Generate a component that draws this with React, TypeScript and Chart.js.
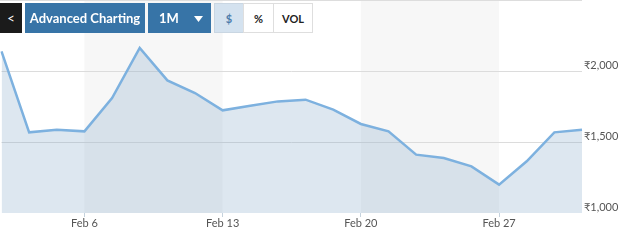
import React, { useEffect, useRef } from "react";
import { Chart, registerables } from "chart.js";

Chart.register(...registerables);

const dates = [
  "Feb 1", "Feb 2", "Feb 3",
  "Feb 6", "Feb 7", "Feb 8", "Feb 9", "Feb 10",
  "Feb 13", "Feb 14", "Feb 15", "Feb 16", "Feb 17",
  "Feb 20", "Feb 21", "Feb 22", "Feb 23", "Feb 24",
  "Feb 27", "Feb 28", "Mar 1", "Mar 2",
];
const prices = [
  2138, 1568, 1587,
  1575, 1810, 2162, 1934, 1845,
  1723, 1756, 1786, 1798, 1728,
  1627, 1575, 1411, 1387, 1328,
  1200, 1364, 1568, 1587,
];
const xTickLabels = ["Feb 6", "Feb 13", "Feb 20", "Feb 27"];
const yTickValues = [1000, 1500, 2000];
const yMin = 1000;
const yMax = 2500;
const bandRanges: [string, string][] = [["Feb 6", "Feb 13"], ["Feb 20", "Feb 27"]];

const bandsPlugin = {
  id: "bands",
  beforeDraw(chart: any) {
    const { ctx, chartArea, scales } = chart;
    const x = scales.x;
    ctx.save();
    ctx.fillStyle = "#f7f7f7";
    for (const [a, b] of bandRanges) {
      const x0 = x.getPixelForValue(dates.indexOf(a));
      const x1 = x.getPixelForValue(dates.indexOf(b));
      ctx.fillRect(x0, chartArea.top, x1 - x0, chartArea.bottom - chartArea.top);
    }
    ctx.strokeStyle = "#dddddd";
    ctx.lineWidth = 1;
    ctx.beginPath();
    ctx.moveTo(0, 0.5);
    ctx.lineTo(chartArea.right, 0.5);
    ctx.stroke();
    ctx.restore();
  },
};

const btnBase: React.CSSProperties = {
  position: "absolute",
  top: 3,
  height: 30,
  display: "flex",
  alignItems: "center",
  justifyContent: "center",
  fontFamily: "Lato, 'Open Sans', sans-serif",
  fontWeight: 700,
  boxSizing: "border-box",
};

export default function App() {
  const ref = useRef<HTMLCanvasElement | null>(null);
  useEffect(() => {
    if (!ref.current) return;
    const chart = new Chart(ref.current, {
      type: "line",
      data: {
        labels: dates,
        datasets: [
          {
            data: prices,
            borderColor: "#7db1df",
            borderWidth: 2.5,
            backgroundColor: "rgba(120,160,195,0.25)",
            fill: "start",
            pointRadius: 0,
            tension: 0,
          },
        ],
      },
      plugins: [bandsPlugin],
      options: {
        animation: false,
        responsive: false,
        maintainAspectRatio: false,
        layout: { padding: { left: 1.5, top: 0, right: 0, bottom: 0 } },
        plugins: { legend: { display: false }, tooltip: { enabled: false } },
        scales: {
          x: {
            type: "category",
            offset: false,
            border: { display: false },
            grid: {
              drawOnChartArea: false,
              drawTicks: true,
              tickLength: 4,
              tickColor: (c: any) =>
                xTickLabels.includes(dates[c.index]) ? "#c5d2dd" : "rgba(0,0,0,0)",
            },
            ticks: {
              autoSkip: false,
              maxRotation: 0,
              padding: 0,
              color: "#555",
              font: { family: "Lato, 'Open Sans', sans-serif", size: 11 },
              callback: (_v: any, i: number) =>
                xTickLabels.includes(dates[i]) ? dates[i] : "",
            },
            afterFit: (s: any) => {
              s.height = 30;
              s.paddingLeft = 0;
              s.paddingRight = 0;
            },
          },
          y: {
            position: "right",
            min: yMin,
            max: yMax,
            border: { display: false },
            grid: {
              drawTicks: false,
              color: (c: any) =>
                c.tick && (c.tick.value === 1500 || c.tick.value === 2000)
                  ? "#dcdcdc"
                  : "rgba(0,0,0,0)",
            },
            afterBuildTicks: (s: any) => {
              s.ticks = yTickValues.map((v) => ({ value: v }));
            },
            afterFit: (s: any) => {
              s.width = 47;
              s.paddingTop = 0;
              s.paddingBottom = 0;
            },
            ticks: {
              padding: 2,
              labelOffset: -6,
              color: "#555",
              font: { family: "Lato, 'Open Sans', sans-serif", size: 11 },
              callback: (v: any) => "₹" + Number(v).toLocaleString("en-US"),
            },
          },
        },
      },
    } as any);
    return () => chart.destroy();
  }, []);

  return (
    <div style={{ position: "fixed", left: 0, top: 0, width: 629, height: 243, background: "#fff" }}>
      <canvas ref={ref} width={629} height={243} style={{ position: "absolute", left: 0, top: 0 }} />
      <div style={{ ...btnBase, left: 0, width: 22, background: "#1b1b1b", color: "#fff", fontSize: 13, fontWeight: 400 }}>&lt;</div>
      <div style={{ ...btnBase, left: 25, width: 120, background: "#3774a7", color: "#fff", fontSize: 13 }}>
        Advanced Charting
      </div>
      <div style={{ ...btnBase, left: 148, width: 63, background: "#3774a7", color: "#fff", fontSize: 13, justifyContent: "flex-start", paddingLeft: 11 }}>
        1M
        <svg width="9" height="6" style={{ position: "absolute", left: 46, top: 13 }}>
          <polygon points="0,0 9,0 4.5,6" fill="#fff" />
        </svg>
      </div>
      <div style={{ ...btnBase, left: 214, width: 30, background: "#d4e2ef", color: "#4c7cab", fontSize: 11, border: "1px solid #c9d6e2" }}>$</div>
      <div style={{ ...btnBase, left: 243, width: 31, background: "#fff", color: "#222", fontSize: 11, border: "1px solid #dedede" }}>%</div>
      <div style={{ ...btnBase, left: 273, width: 40, background: "#fff", color: "#222", fontSize: 11, border: "1px solid #dedede" }}>VOL</div>
    </div>
  );
}
